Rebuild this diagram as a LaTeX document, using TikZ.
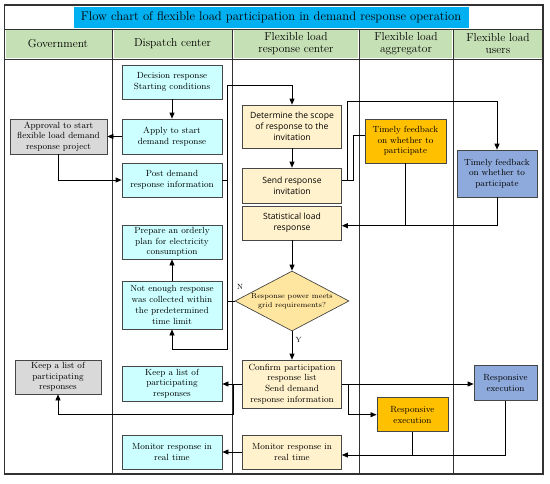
\documentclass[tikz,border=0pt]{standalone}
\usepackage{fontspec}
\newfontfamily\sansbox{Open Sans}
\usetikzlibrary{arrows.meta,shapes.geometric}
\definecolor{cyanfill}{RGB}{204,255,255}
\definecolor{greyfill}{RGB}{217,217,217}
\definecolor{yelfill}{RGB}{255,242,204}
\definecolor{orfill}{RGB}{255,192,0}
\definecolor{bluefill}{RGB}{142,169,219}
\definecolor{diafill}{RGB}{255,230,160}
\definecolor{hdrgreen}{RGB}{197,224,180}
\definecolor{titleblue}{RGB}{0,176,240}
\definecolor{boxline}{RGB}{70,70,70}
\definecolor{laneline}{RGB}{50,50,50}
\tikzset{
  box/.style={draw=boxline, line width=0.7pt, align=center, inner sep=1pt,
    font=\fontsize{8.9}{10.7}\selectfont},
  cbox/.style={box, fill=cyanfill},
  gbox/.style={box, fill=greyfill},
  ybox/.style={box, fill=yelfill},
  ysbox/.style={box, fill=yelfill, font=\sansbox\fontsize{8.6}{11.2}\selectfont},
  obox/.style={box, fill=orfill},
  bbox/.style={box, fill=bluefill},
  arr/.style={draw=black, line width=0.7pt, -{Triangle[length=6pt,width=5pt]}},
  ln/.style={draw=black, line width=0.7pt},
  hdr/.style={align=center, font=\fontsize{11.5}{12}\selectfont},
  lbl/.style={font=\fontsize{7.5}{9}\selectfont, inner sep=0pt}
}
\begin{document}
\begin{tikzpicture}[x=1pt,y=-1pt]
\useasboundingbox (0,0) rectangle (550,483);
\fill[white] (0,0) rectangle (550,483);
% title
\fill[titleblue] (73.5,6.5) rectangle (469,27.5);
\node[font=\fontsize{12.6}{13}\selectfont] (title) at (271,17) {Flow chart of flexible load participation in demand response operation};
% header cells
\fill[hdrgreen] (5.5,30) rectangle (111.5,58);
\fill[hdrgreen] (113.5,30) rectangle (231.7,58);
\fill[hdrgreen] (233.7,30) rectangle (358,58);
\fill[hdrgreen] (360,30) rectangle (452,58);
\fill[hdrgreen] (454,30) rectangle (542,58);
\node[hdr] (h1) at (58,44) {Government};
\node[hdr] (h2) at (172.5,44) {Dispatch center};
\node[hdr] (h3) at (296,44) {Flexible load\\response center};
\node[hdr] (h4) at (406,44) {Flexible load\\aggregator};
\node[hdr] (h5) at (498,44) {Flexible load\\users};
% grid lines
\draw[laneline, line width=0.8pt] (4.5,29) -- (543,29);
\draw[laneline, line width=0.8pt] (4.5,59) -- (543,59);
\foreach \x in {112.5,232.7,359,453} \draw[laneline, line width=0.8pt] (\x,29) -- (\x,474);
\draw[laneline, line width=1.1pt] (4.5,5) rectangle (543,474);

% Dispatch center
\node[cbox, minimum width=100pt, minimum height=34pt] (dec) at (172,82) {Decision response\\Starting conditions};
\node[cbox, minimum width=100pt, minimum height=35pt] (apply) at (172,136.5) {Apply to start\\demand response};
\node[cbox, minimum width=100pt, minimum height=34pt] (post) at (172,180) {Post demand\\response information};
\node[cbox, minimum width=100pt, minimum height=34pt] (prep) at (172,242) {Prepare an orderly\\plan for electricity\\consumption};
\node[cbox, minimum width=100pt, minimum height=48pt] (noten) at (172,305) {Not enough response\\was collected within\\the predetermined\\time limit};
\node[cbox, minimum width=100pt, minimum height=35pt] (keepD) at (172,383.5) {Keep a list of\\participating\\responses};
\node[cbox, minimum width=100pt, minimum height=34pt] (monD) at (172,452) {Monitor response in\\real time};
% Government
\node[gbox, minimum width=97pt, minimum height=35pt] (appr) at (58.5,136.5) {Approval to start\\flexible load demand\\response project};
\node[gbox, minimum width=86pt, minimum height=34pt] (keepG) at (58,377) {Keep a list of\\participating\\responses};
% Response center
\node[ysbox, minimum width=99pt, minimum height=43pt] (det) at (292,126.5) {Determine the scope\\of response to the\\invitation};
\node[ysbox, minimum width=99pt, minimum height=35pt] (send) at (292,185.5) {Send response\\invitation};
\node[ysbox, minimum width=99pt, minimum height=34pt] (stat) at (292,223) {Statistical load\\response};
\node[draw=boxline, line width=0.7pt, fill=diafill, diamond, aspect=1.9, inner sep=0pt,
  minimum width=114pt, minimum height=60pt, align=center,
  font=\fontsize{7.3}{9}\selectfont] (dia) at (292,301) {Response power meets\\grid requirements?};
\node[ybox, minimum width=99pt, minimum height=48pt] (conf) at (292,384) {Confirm participation\\response list\\Send demand\\response information};
\node[ybox, minimum width=99pt, minimum height=34pt] (monR) at (292,452) {Monitor response in\\real time};
% Aggregator
\node[obox, minimum width=81pt, minimum height=44pt] (agF) at (405.5,141) {Timely feedback\\on whether to\\participate};
\node[obox, minimum width=71pt, minimum height=34pt] (agE) at (412.4,414.7) {Responsive\\execution};
% Users
\node[bbox, minimum width=80pt, minimum height=47pt] (usF) at (497,173.5) {Timely feedback\\on whether to\\participate};
\node[bbox, minimum width=63pt, minimum height=35pt] (usE) at (505.5,383.3) {Responsive\\execution};

% labels
\node[lbl] (labN) at (240,287) {N};
\node[lbl] (labY) at (298.5,340) {Y};

% coordinates
\coordinate (cPj) at (227,180);
\coordinate (cTop) at (227,85);
\coordinate (cN) at (227,301);
\coordinate (cN2) at (227,349);
\coordinate (cS1) at (347,101);
\coordinate (cS2a) at (353,180);
\coordinate (cS2b) at (353,135);
\coordinate (cAgF) at (405.5,225.7);
\coordinate (cK1) at (233,384);
\coordinate (cK2) at (233,414);
\coordinate (cA1) at (348.3,384);
\coordinate (cA2) at (348.3,414.7);
\coordinate (cAgE) at (412.4,455);

% connectors
\draw[arr] (dec) -- (apply);
\draw[arr] (apply.west) -- (appr.east);
\draw[arr] (appr.south) |- (post.west);
\draw[arr] (post.east) -| (cTop) -| (det.north);
\draw[ln] (cPj) -- (cN);
\draw[arr] (det) -- (send);
\draw[arr] ([yshift=5.5pt]send.east) -| (cS1) -| (usF.north);
\draw[ln] ([yshift=5.5pt]send.east) -- (cS2a) -- (cS2b) -- ([yshift=6pt]agF.west);
\draw[arr] (usF.south) |- ([yshift=-2.7pt]stat.east);
\draw[ln] (agF.south) -- (cAgF);
\draw[arr] (stat) -- (dia);
\draw[arr] (dia) -- (conf);
\draw[arr] (dia.west) -- (cN) -- (cN2) -| (noten.south);
\draw[arr] (noten) -- (prep);
\draw[arr] (conf.west) -- (conf.west -| keepD.east);
\draw[arr] (conf.west) -- (cK1) -- (cK2) -| (keepG.south);
\draw[arr] (conf.east) -- (conf.east -| usE.west);
\draw[arr] (conf.east) -- (cA1) -- (cA2) -- (agE.west);
\draw[arr] (usE.south) |- ([yshift=-3pt]monR.east);
\draw[ln] (agE.south) -- (cAgE);
\draw[arr] (monR.west) -- (monD.east);
\end{tikzpicture}
\end{document}
